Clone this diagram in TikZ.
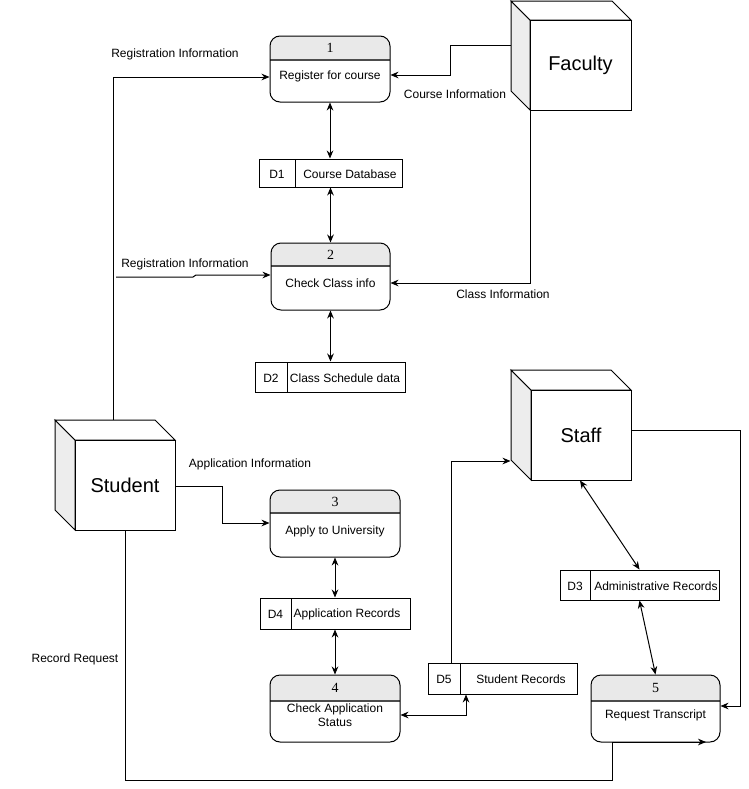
\documentclass[tikz,border=0pt]{standalone}
\usepackage{fontspec}
\setmainfont{Liberation Sans}
\newfontfamily\numfont{Liberation Serif}
\usetikzlibrary{arrows.meta,fit}

% process: name x1 y1 x2 y2 headerY number
\newcommand\procbox[7]{%
  \node[fit={(#2,#3)(#4,#5)}, inner sep=0pt] (#1) {};
  \fill[white, rounded corners=7.5pt] (#2,#3) rectangle (#4,#5);
  \begin{scope}
    \clip (#2,#3) rectangle (#4,#6);
    \fill[hdr, rounded corners=7.5pt] (#2,#3) rectangle (#4,#5);
  \end{scope}
  \draw[gray!60!black, line width=1.1pt] (#2,#6) -- (#4,#6);
  \draw[rounded corners=7.5pt] (#2,#3) rectangle (#4,#5);
  \node[numlbl] (#1num) at ({(#2+#4)/2},{(#3+#6)/2}) {#7};
}
% cube: name x1 y1 x2 y2 depth text
\newcommand\cubebox[7]{%
  \node[fit={(#2,#3)(#4,#5)}, inner sep=0pt] (#1) {};
  \filldraw[fill=sideg] (#2,#3) -- ({#2+#6},{#3+#6}) -- ({#2+#6},#5) -- (#2,{#5-#6}) -- cycle;
  \filldraw[fill=white] (#2,#3) -- ({#4-#6},#3) -- (#4,{#3+#6}) -- ({#2+#6},{#3+#6}) -- cycle;
  \filldraw[fill=white] ({#2+#6},{#3+#6}) rectangle (#4,#5);
  \node[cubelbl] (#1txt) at ({(#2+#6+#4)/2},{(#3+#6+#5)/2}) {#7};
}
% store: name x1 y1 x2 y2 divider id label labelX
\newcommand\storebox[9]{%
  \node[fit={(#2,#3)(#4,#5)}, inner sep=0pt, draw, fill=white] (#1) {};
  \draw (#6,#3) -- (#6,#5);
  \node[lbl] (#1id) at ({(#2+#6)/2},{(#3+#5)/2}) {#7};
  \node[lbl] (#1txt) at (#9,{(#3+#5)/2}) {#8};
}

\begin{document}
\begin{tikzpicture}[x=0.75pt,y=-0.75pt, line width=0.75pt,
  arr/.style={-{Stealth[length=6pt,width=5pt]}},
  darr/.style={{Stealth[length=6pt,width=5pt]}-{Stealth[length=6pt,width=5pt]}},
  lbl/.style={font=\fontsize{9}{11}\selectfont, inner sep=0pt, align=center, yshift=-0.8pt},
  numlbl/.style={font=\numfont\fontsize{10.5}{12}\selectfont, inner sep=0pt},
  cubelbl/.style={font=\fontsize{15}{18}\selectfont, inner sep=0pt},
  hdr/.style={fill=gray!17},
]
\colorlet{sideg}{gray!14}
\useasboundingbox[fill=white] (0,0) rectangle (749,789);

% external entities
\cubebox{fac}{511}{1}{631}{110}{19}{Faculty}
\cubebox{stu}{55}{420}{175}{530}{20}{Student}
\cubebox{stf}{511}{370}{631}{480}{20}{Staff}

% processes
\procbox{p1}{270}{36}{390}{102}{60}{1}
\node[lbl] (p1t) at (330,75) {Register for course};
\procbox{p2}{271}{243}{390}{310}{266}{2}
\node[lbl] (p2t) at (330.5,282) {Check Class info};
\procbox{p3}{270}{490}{400}{557}{513}{3}
\node[lbl] (p3t) at (335,530) {Apply to University};
\procbox{p4}{270}{675}{400}{742}{701}{4}
\node[lbl, font=\fontsize{9}{10.5}\selectfont] (p4t) at (335,714.5) {Check Application\\Status};
\procbox{p5}{591}{675}{720}{742}{701}{5}
\node[lbl] (p5t) at (655.5,714) {Request Transcript};

% data stores
\storebox{d1}{259}{159}{402}{187}{295}{D1}{Course Database}{350}
\storebox{d2}{255}{362}{405}{392}{287}{D2}{Class Schedule data}{345}
\storebox{d4}{260}{598}{410}{629}{291}{D4}{Application Records}{347}
\storebox{d5}{428}{663}{577}{694}{460}{D5}{Student Records}{521}
\storebox{d3}{560}{570}{719}{600}{590}{D3}{Administrative Records}{656}

% connectors
\draw[arr] (stu.north -| 113,0) |- (p1.west |- 0,77);
\node[lbl] (l1) at (175,53) {Registration Information};

\draw[arr] (fac.west |- 0,45) -- (450,45) |- (p1.east |- 0,75);
\node[lbl] (l2) at (455,93) {Course Information};

\draw[darr] (p1.south) -- (d1.north -| p1.south);
\draw[darr] (d1.south -| p2.north) -- (p2.north);

\coordinate (ri) at (116,277);
\draw[arr] (ri) -- (193,277) -- (196,275) -- (p2.west |- 0,275);
\node[lbl] (l3) at (185,263) {Registration Information};

\draw[arr] (fac.south -| 530,0) -- (530,283) -- (p2.east |- 0,283);
\node[lbl] (l4) at (503,293) {Class Information};

\draw[darr] (p2.south) -- (d2.north -| p2.south);

\draw[arr] (stu.east |- 0,486) -- (222,486) |- (p3.west |- 0,523);
\node[lbl] (l5) at (250,463) {Application Information};

\draw[darr] (p3.south) -- (d4.north -| p3.south);
\draw[darr] (d4.south -| p4.north) -- (p4.north);

\draw[darr] (p4.east |- 0,715) -| (d5.south -| 466,0);
\draw[arr] (d5.north -| 451,0) |- (stf.west |- 0,461);

\draw[arr] (stf.east |- 0,430) -- (740,430) -- (740,706) -- (p5.east |- 0,706);
\draw[darr] (stf.south -| 580,0) -- (d3.north);
\draw[darr] (d3.south) -- (p5.north);

\draw[arr] (stu.south -| 125,0) |- (612,780) -- (612,742) -- (706,742);
\node[lbl] (l6) at (75,658) {Record Request};
\end{tikzpicture}
\end{document}
